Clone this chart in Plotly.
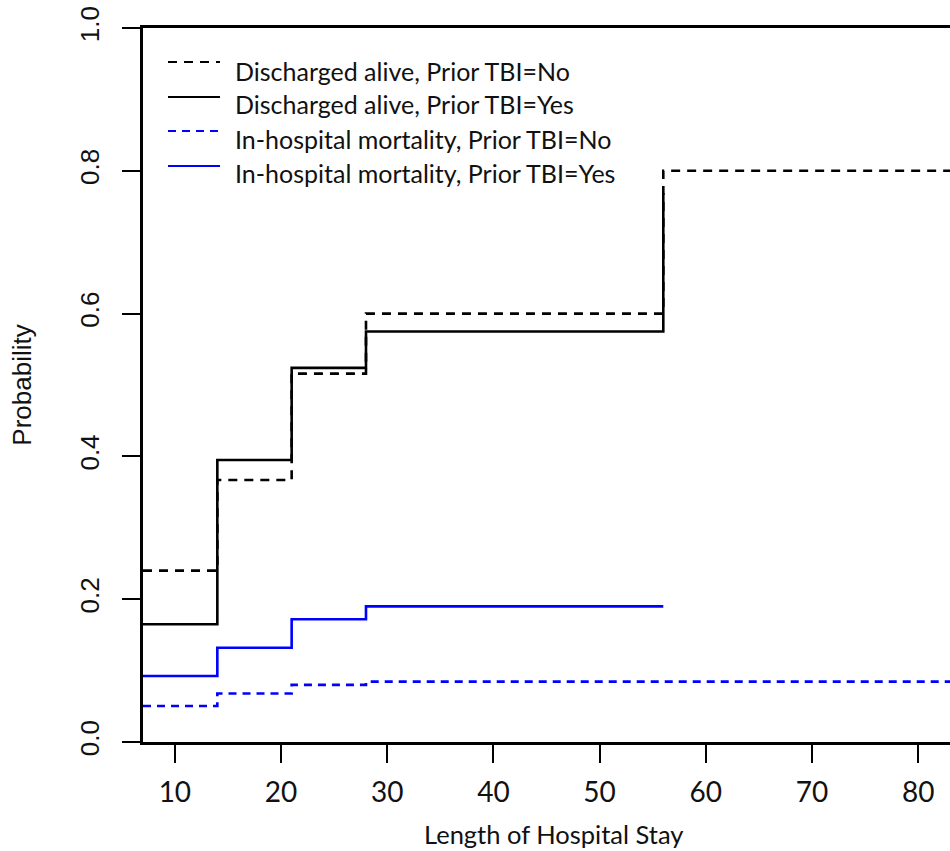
import plotly.graph_objects as go

# ---- data ----
days_full = [7, 14, 21, 28, 56, 90]
days_yes = [7, 14, 21, 28, 56]

discharged_no = [0.240, 0.367, 0.516, 0.600, 0.800, 0.800]
discharged_yes = [0.165, 0.395, 0.524, 0.575, 0.769]
mortality_no = [0.0505, 0.068, 0.080, 0.0845, 0.0845, 0.0845]
mortality_yes = [0.0925, 0.132, 0.172, 0.190, 0.190]

series_names = [
    "Discharged alive, Prior TBI=No",
    "Discharged alive, Prior TBI=Yes",
    "In-hospital mortality, Prior TBI=No",
    "In-hospital mortality, Prior TBI=Yes",
]
series_colors = ["black", "black", "#0000FF", "#0000FF"]
series_dash = ["9px,7px", "solid", "8px,6px", "solid"]

x_ticks = [10, 20, 30, 40, 50, 60, 70, 80]
y_ticks = [0.0, 0.2, 0.4, 0.6, 0.8, 1.0]
y_ticktext = ["0.0", "0.2", "0.4", "0.6", "0.8", "1.0"]

W, H = 950, 851
PL, PT, PR, PB = 143, 28, 950, 742          # plot box in screen pixels
ML, MT, MR, MB = PL, PT, W - PR, H - PB

fig = go.Figure()
data = [
    (days_full, discharged_no),
    (days_yes, discharged_yes),
    (days_full, mortality_no),
    (days_yes, mortality_yes),
]
for (xs, ys), name, col, dash in zip(data, series_names, series_colors, series_dash):
    fig.add_trace(go.Scatter(
        x=xs, y=ys, mode="lines", name=name,
        line=dict(color=col, width=2.6, dash=dash, shape="hv"),
        showlegend=False, hoverinfo="skip",
    ))

# ---- manual legend (R-style) ----
def px_x(p):
    return (p - PL) / (PR - PL)
def px_y(p):
    return (PB - p) / (PB - PT)

line_rows = [62, 97, 131, 166]
text_rows = [71, 104.5, 139, 173]
for i, name in enumerate(series_names):
    fig.add_shape(type="line", xref="paper", yref="paper",
                  x0=px_x(168), x1=px_x(220), y0=px_y(line_rows[i]), y1=px_y(line_rows[i]),
                  line=dict(color=series_colors[i], width=2, dash=series_dash[i]))
    fig.add_annotation(xref="paper", yref="paper", x=px_x(233), y=px_y(text_rows[i]),
                       xanchor="left", yanchor="middle", showarrow=False,
                       text=name, font=dict(family="Lato", size=25, color="#111"))

fig.update_layout(
    width=W, height=H,
    margin=dict(l=ML, r=MR, t=MT, b=MB, pad=0, autoexpand=False),
    paper_bgcolor="white", plot_bgcolor="white",
    showlegend=False,
    xaxis=dict(
        range=[7, 83], tickvals=x_ticks, ticks="outside", ticklen=18, tickwidth=2,
        tickcolor="black", showline=True, linecolor="black", linewidth=2.5, mirror=True,
        showgrid=False, zeroline=False, automargin=False, ticklabelstandoff=6,
        ticklabeloverflow="allow",
        tickfont=dict(family="Lato", size=28, color="#111"),
    ),
    yaxis=dict(
        range=[0, 1], tickvals=y_ticks, ticktext=y_ticktext, ticks="outside", ticklen=18,
        tickwidth=2, tickcolor="black", showline=True, linecolor="black", linewidth=2.5,
        showgrid=False, zeroline=False, tickangle=-90, automargin=False,
        ticklabelstandoff=13, ticklabeloverflow="allow",
        tickfont=dict(family="Liberation Sans", size=26, color="#111"),
        title=dict(text="Probability", standoff=36,
                   font=dict(family="Liberation Sans", size=26, color="#111")),
    ),
)

# x-axis title (centred as in the reference, whose plot box continues past the crop)
fig.add_annotation(xref="paper", yref="paper", x=px_x(553), y=px_y(834),
                   xanchor="center", yanchor="middle", showarrow=False,
                   text="Length of Hospital Stay",
                   font=dict(family="Lato", size=25.5, color="#111"))

fig.write_html(
    "out.html",
    config={"displayModeBar": False},
    post_script="document.body.style.margin='0';document.body.style.overflow='hidden';",
)
